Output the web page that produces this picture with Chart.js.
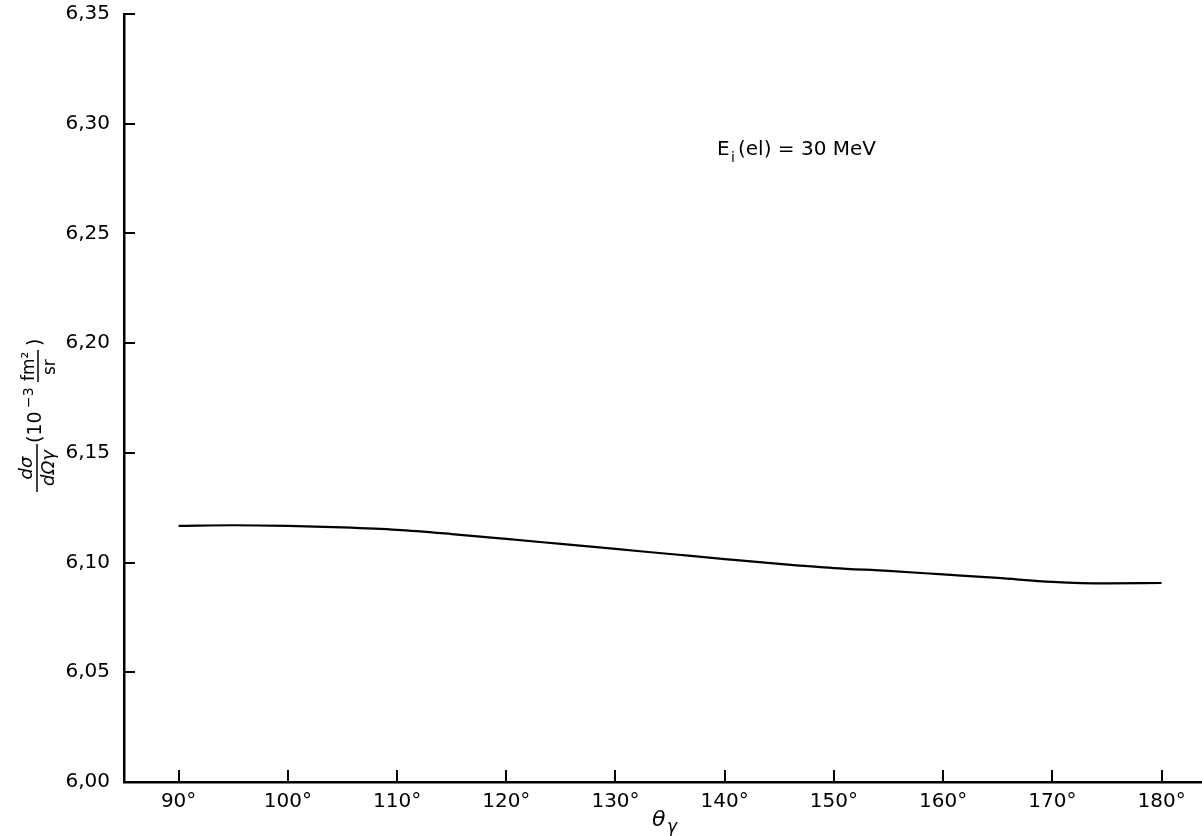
<!DOCTYPE html>
<html>
<head>
<meta charset="utf-8">
<script src="https://cdn.jsdelivr.net/npm/chart.js@4/dist/chart.umd.min.js"></script>
<style>
  html, body { margin: 0; padding: 0; background: #fff; }
</style>
</head>
<body>
<canvas id="fig" width="1202" height="836"></canvas>
<script>
// photon angle (deg) vs cross section (10^-3 fm^2/sr)
const angles = [90, 95, 100, 105, 110, 115, 120, 125, 130, 135, 140, 145, 150, 155, 160, 165, 170, 175, 180]
const crossSection = [6.1167, 6.1170, 6.1167, 6.1160, 6.1149, 6.1130, 6.1108, 6.1085, 6.1062, 6.1039,
  6.1016, 6.0994, 6.0975, 6.0962, 6.0946, 6.0930, 6.0912, 6.0905, 6.0907]

const xTicks = [90, 100, 110, 120, 130, 140, 150, 160, 170, 180]
const yTicks = [6.00, 6.05, 6.10, 6.15, 6.20, 6.25, 6.30, 6.35]

const font = '"DejaVu Sans", sans-serif'

// short inward tick marks plus the hand-lettered axis titles
const decorations = {
  id: 'decorations',
  afterDraw(chart) {
    const ctx = chart.ctx
    const xs = chart.scales.x
    const ys = chart.scales.y
    const area = chart.chartArea

    ctx.save()
    ctx.strokeStyle = '#000'
    ctx.lineWidth = 2
    xTicks.forEach(function(v) {
      const px = Math.round(xs.getPixelForValue(v))
      ctx.beginPath()
      ctx.moveTo(px, area.bottom)
      ctx.lineTo(px, area.bottom - 12)
      ctx.stroke()
    })
    yTicks.forEach(function(v) {
      const py = Math.round(ys.getPixelForValue(v))
      ctx.beginPath()
      ctx.moveTo(area.left, py)
      ctx.lineTo(area.left + 11, py)
      ctx.stroke()
    })

    ctx.fillStyle = '#000'
    ctx.textBaseline = 'alphabetic'

    // x title: theta_gamma
    ctx.font = 'italic 22px ' + font
    ctx.fillText('θ', 652, 826)
    ctx.font = 'italic 17px ' + font
    ctx.fillText('γ', 667, 832)

    // annotation E_i(el) = 30 MeV
    ctx.font = '20px ' + font
    ctx.fillText('E', 717, 155)
    ctx.font = '14px ' + font
    ctx.fillText('i', 731, 162)
    ctx.font = '20px ' + font
    ctx.fillText('(el) = 30 MeV', 738, 155)

    // y title, rotated: dσ/dΩγ (10^-3 fm²/sr)
    ctx.rotate(-Math.PI / 2)
    // in this frame: u = -screenY, v = screenX
    ctx.textAlign = 'center'
    ctx.font = 'italic 18px ' + font
    ctx.fillText('dσ', -468, 32)
    ctx.fillText('dΩγ', -468, 54)
    ctx.lineWidth = 1.5
    ctx.beginPath()
    ctx.moveTo(-492, 37)
    ctx.lineTo(-444, 37)
    ctx.stroke()

    ctx.textAlign = 'left'
    ctx.font = '19px ' + font
    ctx.fillText('(10', -443, 41)
    ctx.font = '14px ' + font
    ctx.fillText('−3', -408, 33)
    ctx.font = '17px ' + font
    ctx.fillText('fm²', -381, 34)
    ctx.fillText('sr', -375, 55)
    ctx.beginPath()
    ctx.moveTo(-382, 38)
    ctx.lineTo(-350, 38)
    ctx.stroke()
    ctx.font = '19px ' + font
    ctx.fillText(')', -346, 41)
    ctx.restore()
  }
}

new Chart(document.getElementById('fig').getContext('2d'), {
  type: 'line',
  data: {
    datasets: [
      {
        data: angles.map(function(a, i) { return { x: a, y: crossSection[i] } }),
        borderColor: '#000',
        borderWidth: 2.2,
        pointRadius: 0,
        fill: false,
        cubicInterpolationMode: 'monotone'
      }
    ]
  },
  options: {
    responsive: false,
    animation: false,
    layout: { padding: { top: 14, right: 0, left: 0, bottom: 0 } },
    plugins: {
      legend: { display: false },
      tooltip: { enabled: false }
    },
    scales: {
      x: {
        type: 'linear',
        min: 85,
        max: 183.7,
        afterBuildTicks: function(scale) {
          scale.ticks = xTicks.map(function(v) { return { value: v } })
        },
        afterFit: function(scale) {
          scale.height = 54
          scale.paddingLeft = 0
          scale.paddingRight = 0
        },
        grid: { display: false, drawTicks: false },
        border: { display: true, color: '#000', width: 2.5 },
        ticks: {
          color: '#000',
          padding: 8,
          maxRotation: 0,
          autoSkip: false,
          font: { family: font, size: 20 },
          callback: function(v) { return v + '°' }
        }
      },
      y: {
        type: 'linear',
        min: 6.00,
        max: 6.35,
        afterBuildTicks: function(scale) {
          scale.ticks = yTicks.map(function(v) { return { value: v } })
        },
        afterFit: function(scale) {
          scale.width = 124
          scale.paddingTop = 0
          scale.paddingBottom = 0
        },
        grid: { display: false, drawTicks: false },
        border: { display: true, color: '#000', width: 2.5 },
        ticks: {
          color: '#000',
          padding: 14,
          autoSkip: false,
          font: { family: font, size: 20 },
          callback: function(v) { return v.toFixed(2).replace('.', ',') }
        }
      }
    }
  },
  plugins: [decorations]
})
</script>
</body>
</html>
